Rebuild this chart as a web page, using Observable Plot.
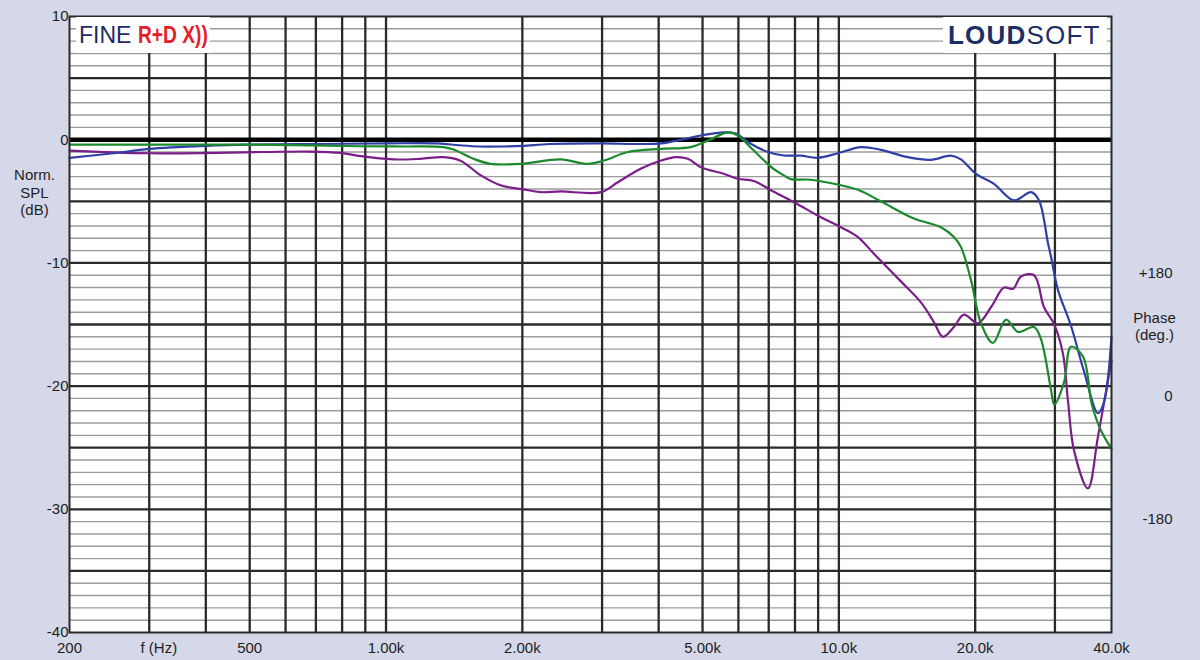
<!DOCTYPE html>
<html>
<head>
<meta charset="utf-8">
<script src="https://cdn.jsdelivr.net/npm/d3@7"></script>
<script src="https://cdn.jsdelivr.net/npm/@observablehq/plot@0.6"></script>
<style>
  html, body { margin: 0; padding: 0; background: #d4d8e8; }
  #wrap { position: relative; width: 1200px; height: 660px; overflow: hidden; }
  .logo { position: absolute; background: #ffffff; display: flex; align-items: center; white-space: nowrap; font-family: "Liberation Sans", Arial, sans-serif; }
</style>
</head>
<body>
<div id="wrap">
  <div id="chart"></div>
  <div class="logo" style="left:76px; top:17px; width:134px; height:36px;">
    <span style="font-size:23px; color:#1d2b68; margin-left:3px;">FINE</span>
    <span style="display:inline-block; font-size:24px; color:#e4202a; font-weight:bold; margin-left:7px; transform:scaleX(0.8); transform-origin:left center;">R+D X))</span>
  </div>
  <div class="logo" style="left:943px; top:17px; width:164px; height:36px;">
    <span style="font-size:26px; color:#1b2e66; letter-spacing:1.2px; margin-left:5px;"><b>LOUD</b>SOFT</span>
  </div>
</div>
<script>
// ---- Data ----
const blueFreq = [200, 250, 300, 400, 500, 700, 1000, 1300, 1450, 1600, 1800, 2000, 2300, 3000, 3600, 4050, 4550, 4960, 5570, 5920, 6390, 6970, 7560, 8240, 8990, 9950, 11190, 12380, 14200, 15970, 17680, 18600, 20080, 22000, 24370, 26570, 27670, 28960, 29410, 30470, 32550, 34780, 37340, 38500, 40000];
const blueDb   = [-1.47, -1.1, -0.75, -0.5, -0.4, -0.35, -0.3, -0.3, -0.45, -0.55, -0.55, -0.5, -0.35, -0.3, -0.35, -0.3, 0.05, 0.34, 0.6, 0.5, -0.33, -1.0, -1.28, -1.3, -1.47, -1.1, -0.6, -0.82, -1.42, -1.63, -1.3, -1.6, -2.77, -3.58, -4.93, -4.26, -4.93, -8.4, -9.5, -12.2, -15.1, -18.8, -22.2, -21.3, -16.0];

const greenFreq = [200, 300, 500, 880, 1100, 1340, 1410, 1560, 1700, 1990, 2430, 2790, 3030, 3420, 4050, 4710, 5140, 5690, 5980, 6490, 7080, 7560, 7830, 8680, 10100, 11020, 12380, 14650, 16800, 17950, 18600, 19580, 20600, 21890, 23400, 24870, 26980, 27950, 29410, 29900, 31420, 32550, 34600, 36040, 36590, 37910, 40000];
const greenDb   = [-0.4, -0.4, -0.4, -0.53, -0.55, -0.6, -0.8, -1.55, -1.96, -1.96, -1.6, -1.96, -1.69, -1.0, -0.74, -0.6, -0.07, 0.6, 0.34, -0.88, -2.2, -2.9, -3.2, -3.25, -3.7, -4.07, -5.0, -6.4, -7.1, -7.9, -8.7, -11.4, -14.9, -16.5, -14.6, -15.6, -15.2, -16.2, -20.3, -21.5, -19.7, -16.8, -17.6, -21.2, -22.1, -23.6, -25.1];

const purpleFreq = [200, 300, 530, 680, 795, 880, 1040, 1190, 1340, 1460, 1620, 1790, 2060, 2200, 2430, 2980, 3250, 3650, 4050, 4370, 4640, 4960, 5570, 5980, 6490, 7080, 7960, 9130, 10100, 11020, 11950, 13710, 15180, 16210, 16970, 17950, 18890, 20290, 21670, 23160, 24250, 25250, 26980, 28380, 29860, 31260, 32060, 33050, 35490, 37340, 40000];
const purpleDb   = [-0.88, -1.1, -1.0, -0.96, -1.07, -1.34, -1.6, -1.55, -1.42, -1.7, -2.9, -3.7, -4.1, -4.26, -4.2, -4.26, -3.45, -2.36, -1.69, -1.42, -1.55, -2.23, -2.77, -3.17, -3.35, -4.1, -5.07, -6.3, -7.1, -7.9, -9.26, -11.5, -13.2, -14.8, -16.0, -15.2, -14.2, -14.9, -13.6, -12.0, -12.1, -11.1, -11.0, -13.6, -14.95, -17.4, -21.2, -25.2, -28.3, -24.1, -17.9];

const xTicks = [200, 500, 1000, 2000, 5000, 10000, 20000, 40000];
const xTickLabels = ["200", "500", "1.00k", "2.00k", "5.00k", "10.0k", "20.0k", "40.0k"];
const yTicks = [10, 0, -10, -20, -30, -40];
const gridFreqs = [300, 400, 500, 600, 700, 800, 900, 1000, 2000, 3000, 4000, 5000, 6000, 7000, 8000, 9000, 10000, 20000, 30000];
const phaseTicks = [180, 0, -180];
const phaseTickLabels = ["+180", "0", "-180"];

// ---- Build tables ----
const toRows = (fs, ds) => fs.map((f, i) => ({f, db: ds[i]}));
const blue = toRows(blueFreq, blueDb);
const green = toRows(greenFreq, greenDb);
const purple = toRows(purpleFreq, purpleDb);
const xLabelRows = xTicks.map((f, i) => ({f, label: xTickLabels[i]}));
const minorDb = d3.range(-39, 10).filter(d => d % 5 !== 0);
const majorDb = [5, -5, -10, -15, -20, -25, -30, -35];
const phaseRows = phaseTicks.map((p, i) => ({db: -20 + p / 18, label: phaseTickLabels[i]}));

const chart = Plot.plot({
  width: 1200,
  height: 660,
  marginLeft: 69,
  marginRight: 89,
  marginTop: 16,
  marginBottom: 28,
  style: {background: "transparent", fontFamily: "'Liberation Sans', Arial, sans-serif", fontSize: "15px", color: "#1e1e1e"},
  x: {type: "log", domain: [200, 40000], axis: null},
  y: {domain: [-40, 10], ticks: yTicks, tickFormat: d => String(d), tickSize: 0, tickPadding: 1, label: null},
  marks: [
    Plot.frame({fill: "white", stroke: null}),
    Plot.ruleY(minorDb, {stroke: "#9c9c9c", strokeWidth: 1.4}),
    Plot.ruleY(majorDb, {stroke: "#2a2a2a", strokeWidth: 2.3}),
    Plot.ruleX(gridFreqs, {stroke: "#2a2a2a", strokeWidth: 2.3}),
    Plot.ruleY([0], {stroke: "#000", strokeWidth: 4.5}),
    Plot.line(purple, {x: "f", y: "db", stroke: "#7a1f88", strokeWidth: 2.2, curve: "catmull-rom"}),
    Plot.line(blue, {x: "f", y: "db", stroke: "#2f3fa6", strokeWidth: 2.2, curve: "catmull-rom"}),
    Plot.line(green, {x: "f", y: "db", stroke: "#1a8a2c", strokeWidth: 2.2, curve: "catmull-rom"}),
    Plot.frame({stroke: "#2a2a2a", strokeWidth: 2}),
    Plot.text(xLabelRows, {text: "label", x: "f", frameAnchor: "bottom", dy: 16, textAnchor: "middle", lineAnchor: "middle", fill: "#1e1e1e"}),
    Plot.text([{t: "f (Hz)", f: 315}], {text: "t", x: "f", frameAnchor: "bottom", dy: 16, textAnchor: "middle", lineAnchor: "middle", fill: "#1e1e1e"}),
    Plot.text([{t: "Norm.\nSPL\n(dB)", db: -5}], {text: "t", y: "db", frameAnchor: "left", dx: -35, dy: -9, textAnchor: "middle", lineHeight: 1.17, fill: "#1e1e1e"}),
    Plot.text(phaseRows, {text: "label", y: "db", frameAnchor: "right", dx: 61, dy: 10, textAnchor: "end", fill: "#1e1e1e"}),
    Plot.text([{t: "Phase\n(deg.)", db: -15}], {text: "t", y: "db", frameAnchor: "right", dx: 43, dy: 2, textAnchor: "middle", lineHeight: 1.13, fill: "#1e1e1e"})
  ]
});
document.getElementById("chart").appendChild(chart);
</script>
</body>
</html>
